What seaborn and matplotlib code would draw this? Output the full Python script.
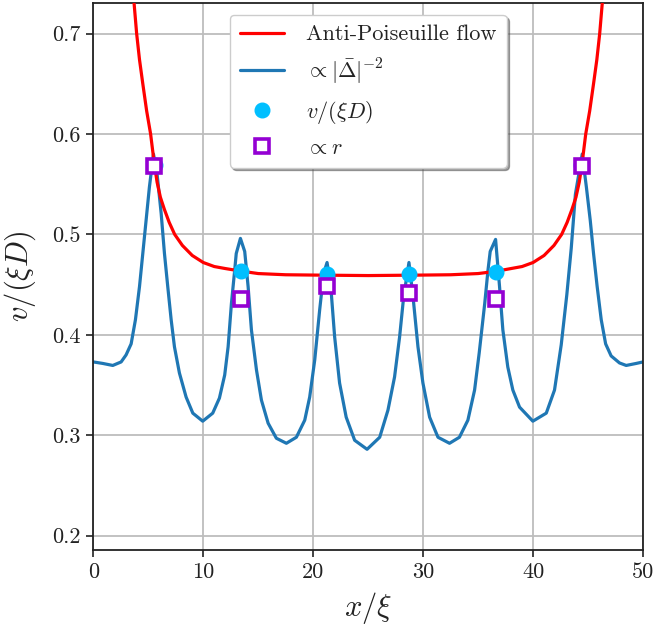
import numpy as np
import pandas as pd
import matplotlib
matplotlib.use("Agg")
import matplotlib.pyplot as plt
import seaborn as sns

# ---------------- data ----------------
red_x = [3.70, 3.94, 4.20, 4.50, 4.85, 5.21, 5.55, 5.80, 6.10, 6.46, 6.90, 7.40, 8.10,
         9.00, 10.0, 11.0, 12.0, 13.4, 15.0, 17.5, 20.0, 25.0, 30.0, 32.5, 35.0, 36.6,
         38.0, 39.0, 40.0, 41.0, 41.9, 42.6, 43.1, 43.54, 43.9, 44.2, 44.45, 44.79,
         45.15, 45.5, 45.8, 46.06, 46.30]
red_y = [0.731, 0.700, 0.674, 0.650, 0.623, 0.600, 0.570, 0.552, 0.537, 0.525, 0.512, 0.500, 0.489,
         0.479, 0.472, 0.468, 0.466, 0.4635, 0.461, 0.4598, 0.4595, 0.459, 0.4595, 0.4598, 0.461, 0.4632,
         0.466, 0.468, 0.472, 0.479, 0.489, 0.500, 0.512, 0.525, 0.537, 0.552, 0.570, 0.600,
         0.623, 0.650, 0.674, 0.700, 0.731]

blue_x = [0.0, 0.86, 1.77, 2.53, 2.98, 3.44, 3.83, 4.20, 4.50, 4.80, 5.10, 5.47,
          5.80, 6.17, 6.47, 6.77, 7.08, 7.38, 7.83, 8.44, 9.05, 9.95, 10.86, 11.47,
          11.95, 12.26, 12.56, 12.86, 13.00, 13.38, 13.77, 14.08, 14.38, 14.84, 15.29,
          15.90, 16.65, 17.56, 18.47, 19.23, 19.68, 20.14, 20.59, 20.95, 21.26, 21.60,
          21.95, 22.40, 23.00, 23.77, 24.90, 26.05, 26.80, 27.40, 27.86, 28.23, 28.71,
          29.08, 29.53, 29.98, 30.59, 31.35, 32.40, 33.30, 34.07, 34.68, 35.10, 35.60,
          35.90, 36.10, 36.59, 36.95, 37.25, 37.70, 38.16, 38.77, 39.98, 41.20, 41.95,
          42.56, 43.07, 43.47, 43.85, 44.47, 44.85, 45.20, 45.50, 45.83, 46.20, 46.60,
          47.10, 47.86, 48.47, 49.38, 50.0]
blue_y = [0.373, 0.3715, 0.3695, 0.373, 0.380, 0.391, 0.415, 0.448, 0.481, 0.514, 0.547, 0.580,
          0.560, 0.521, 0.481, 0.448, 0.415, 0.388, 0.362, 0.338, 0.322, 0.314, 0.322, 0.337,
          0.360, 0.388, 0.431, 0.4645, 0.481, 0.496, 0.483, 0.448, 0.405, 0.365, 0.335,
          0.312, 0.297, 0.292, 0.298, 0.315, 0.338, 0.375, 0.425, 0.461, 0.472, 0.448,
          0.398, 0.352, 0.318, 0.295, 0.286, 0.298, 0.325, 0.358, 0.398, 0.438, 0.472,
          0.438, 0.388, 0.352, 0.318, 0.298, 0.292, 0.298, 0.315, 0.345, 0.382, 0.431,
          0.4645, 0.483, 0.495, 0.448, 0.405, 0.368, 0.345, 0.328, 0.314, 0.322, 0.345,
          0.390, 0.440, 0.486, 0.540, 0.580, 0.547, 0.514, 0.481, 0.448, 0.415, 0.391,
          0.379, 0.372, 0.3695, 0.3715, 0.373]

v_x = [5.62, 13.40, 21.28, 28.72, 36.60, 44.38]
v_y = [0.569, 0.4638, 0.4605, 0.4603, 0.4628, 0.569]

r_x = [5.48, 13.40, 21.28, 28.72, 36.60, 44.48]
r_y = [0.5683, 0.4356, 0.4488, 0.4418, 0.4353, 0.5683]

x_ticks = [0, 10, 20, 30, 40, 50]
y_ticks = [0.2, 0.3, 0.4, 0.5, 0.6, 0.7]

# ---------------- style ----------------
sns.set_theme(style="whitegrid")
plt.rcParams.update({
    "font.family": "serif",
    "font.serif": ["cmr10", "DejaVu Serif"],
    "mathtext.fontset": "cm",
    "axes.formatter.use_mathtext": True,
    "axes.unicode_minus": False,
})

fig = plt.figure(figsize=(6.54, 6.31), dpi=100)
ax = fig.add_axes([0.1427, 0.1288, 0.9832 - 0.1427, 0.9957 - 0.1288])

red_df = pd.DataFrame({"x": red_x, "y": red_y})
blue_df = pd.DataFrame({"x": blue_x, "y": blue_y})
v_df = pd.DataFrame({"x": v_x, "y": v_y})
r_df = pd.DataFrame({"x": r_x, "y": r_y})

sns.lineplot(data=red_df, x="x", y="y", ax=ax, color="#ff0000", lw=2.3,
             sort=False, estimator=None, label="Anti-Poiseuille flow", zorder=3)
sns.lineplot(data=blue_df, x="x", y="y", ax=ax, color="#1f77b4", lw=2.3,
             sort=False, estimator=None, label=r"$\propto|\bar{\Delta}|^{-2}$", zorder=2)
ax.plot(v_df["x"], v_df["y"], ls="none", marker="o", ms=10.5, color="#00bfff",
        mec="#00bfff", label=r"$v/(\xi D)$", zorder=4)
ax.plot(r_df["x"], r_df["y"], ls="none", marker="s", ms=10, mfc="white",
        mec="#9400d3", mew=2.6, label=r"$\propto r$", zorder=5)

ax.set_xlim(0, 50)
ax.set_ylim(0.186, 0.7307)
ax.set_xticks(x_ticks)
ax.set_yticks(y_ticks)
ax.set_xticklabels([str(t) for t in x_ticks])
ax.set_yticklabels([f"{t:.1f}" for t in y_ticks])
ax.tick_params(axis="both", labelsize=16, length=5, width=1.2, color="#222222",
               direction="out", bottom=True, left=True, top=False, right=False,
               pad=4, labelcolor="#222222")
ax.grid(True, color="#bdbdbd", lw=1.3)
for s in ax.spines.values():
    s.set_color("#222222")
    s.set_linewidth(1.3)
ax.set_xlabel(r"$x/\xi$", fontsize=22, color="#222222", labelpad=6)
ax.set_ylabel(r"$v/(\xi D)$", fontsize=22, color="#222222", labelpad=10)

leg = ax.legend(loc="upper center", bbox_to_anchor=(0.50, 0.998), fontsize=16,
                frameon=True, fancybox=True, shadow=True, framealpha=1,
                edgecolor="#cccccc", handlelength=2.0, borderpad=0.45,
                labelspacing=0.55, handletextpad=1.0)
for t in leg.get_texts():
    t.set_color("#222222")

fig.savefig("out.png", dpi=100)
